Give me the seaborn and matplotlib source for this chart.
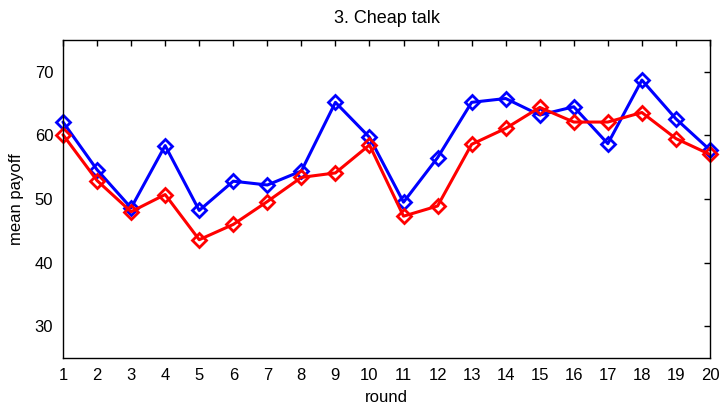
import matplotlib
matplotlib.use("Agg")
import matplotlib.pyplot as plt
import seaborn as sns
import pandas as pd

rounds = list(range(1, 21))
blue_vals = [62.1, 54.6, 48.6, 58.4, 48.2, 52.8, 52.2, 54.4, 65.2, 59.7,
             49.5, 56.5, 65.2, 65.8, 63.2, 64.5, 58.7, 68.7, 62.6, 57.7]
red_vals = [60.1, 52.9, 48.0, 50.7, 43.6, 46.0, 49.6, 53.4, 54.1, 58.5,
            47.3, 48.9, 58.6, 61.1, 64.4, 62.1, 62.1, 63.6, 59.5, 57.0]
y_ticks = [30, 40, 50, 60, 70]

sns.set_style("white")
plt.rcParams['font.family'] = ['Liberation Sans', 'DejaVu Sans']
plt.rcParams['text.color'] = 'black'
plt.rcParams['axes.labelcolor'] = 'black'

fig = plt.figure(figsize=(7.21, 4.08), dpi=100)
ax = fig.add_axes([63/721, 1 - 358/408, (710-63)/721, (358-40)/408])

df_b = pd.DataFrame({"round": rounds, "payoff": blue_vals})
df_r = pd.DataFrame({"round": rounds, "payoff": red_vals})

sns.lineplot(data=df_b, x="round", y="payoff", ax=ax, color="#0000ff", lw=2.2,
             marker="D", markersize=7.5, markerfacecolor="none",
             markeredgecolor="#0000ff", markeredgewidth=2, clip_on=False)
sns.lineplot(data=df_r, x="round", y="payoff", ax=ax, color="#ff0000", lw=2.2,
             marker="D", markersize=7.5, markerfacecolor="none",
             markeredgecolor="#ff0000", markeredgewidth=2, clip_on=False)

ax.set_xlim(1, 20)
ax.set_ylim(25, 75)
ax.set_xticks(rounds)
ax.set_yticks(y_ticks)
ax.tick_params(direction="in", length=4, width=1, top=True, right=True,
               labelsize=12, colors="black", pad=7)
for s in ax.spines.values():
    s.set_visible(True)
    s.set_color("black")
    s.set_linewidth(1)
ax.set_xlabel("round", fontsize=12, labelpad=5)
ax.set_ylabel("mean payoff", fontsize=12, labelpad=8)
ax.set_title("3. Cheap talk", fontsize=13, pad=12)

fig.savefig("out.png", dpi=100)
